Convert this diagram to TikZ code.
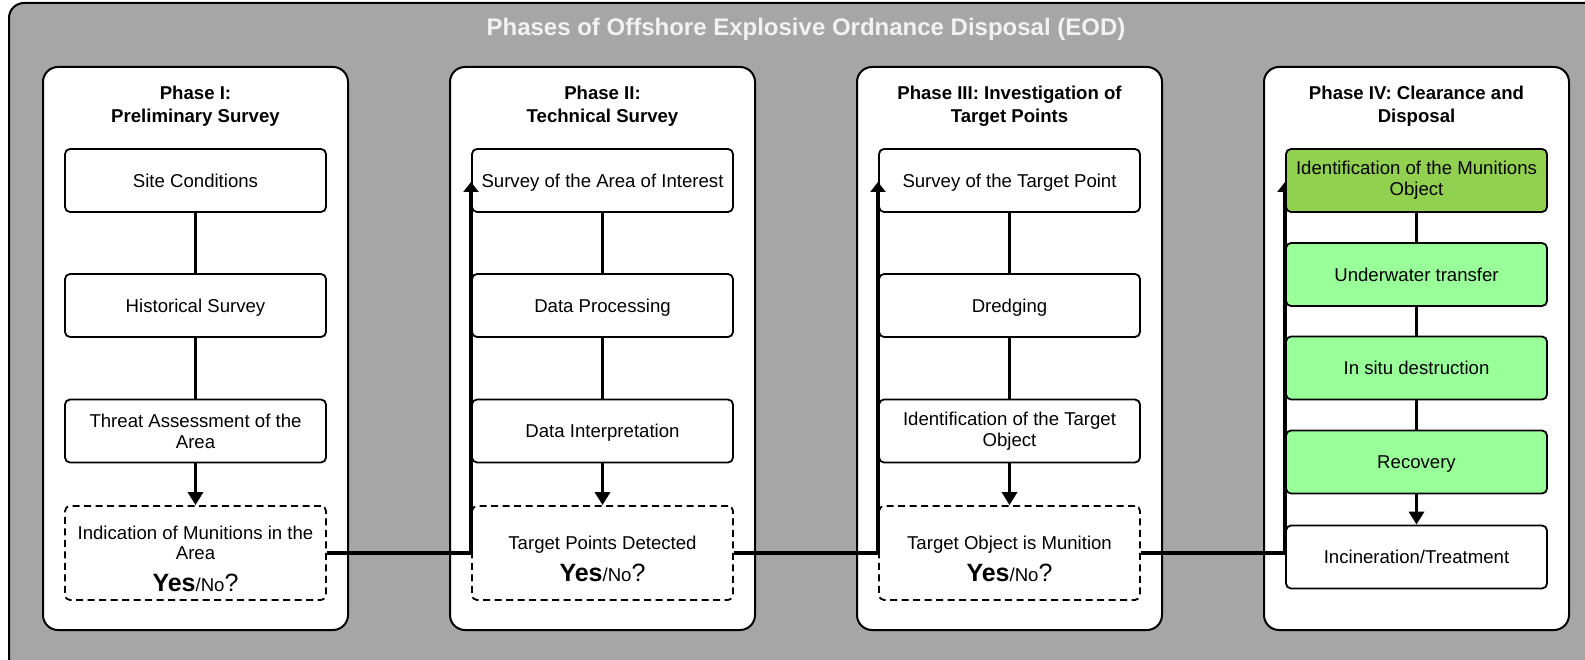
\documentclass[tikz,border=0pt]{standalone}
\usepackage{fontspec}
\setmainfont{Liberation Sans}
\usetikzlibrary{arrows.meta}
\definecolor{bggray}{HTML}{A6A6A6}
\definecolor{titlegray}{HTML}{F2F2F2}
\definecolor{darkgreen}{HTML}{92D050}
\definecolor{lightgreen}{HTML}{99FF99}
\newcommand{\YesNoQ}{{\fontsize{25}{30}\selectfont\bfseries Yes}/No{\fontsize{25}{30}\selectfont ?}}
\newcommand{\TopStrut}{\rule{0pt}{25pt}}
\begin{document}
\begin{tikzpicture}[x=1pt,y=-1pt,
  phasebox/.style={draw, line width=2pt, fill=white, rounded corners=15pt, minimum width=305pt, minimum height=563pt, inner sep=0pt},
  phasetitle/.style={font=\fontsize{18.6}{22.8}\selectfont\bfseries, align=center, inner sep=0pt},
  stepbox/.style={draw, line width=1.8pt, fill=white, rounded corners=5pt, minimum width=261pt, minimum height=63pt, inner sep=0pt, align=center, font=\fontsize{18.6}{20.8}\selectfont},
  onel/.style={text height=13.5pt, text depth=0pt},
  querybox/.style={stepbox, dashed, dash pattern=on 7pt off 4.5pt, minimum height=94pt},
  greenbox/.style={stepbox, fill=lightgreen},
  link/.style={line width=3.8pt},
  downarrow/.style={link, -{Triangle[width=15pt,length=13pt]}},
  uparrow/.style={link, -{Triangle[width=15pt,length=10pt]}},
]
\useasboundingbox (0,0) rectangle (1585,660);
\begin{scope}
  \clip (0,0) rectangle (1585,660);
  \draw[line width=2pt, fill=bggray, rounded corners=15pt] (9,3) rectangle (1620,700);
\end{scope}
\node[font=\fontsize{24}{28}\selectfont\bfseries, text=titlegray, anchor=base, inner sep=0pt] (title) at (806,36) {Phases of Offshore Explosive Ordnance Disposal (EOD)};

% phase boxes
\node[phasebox] (P1) at (195.5,348.5) {};
\node[phasebox] (P2) at (602.5,348.5) {};
\node[phasebox] (P3) at (1009.5,348.5) {};
\node[phasebox] (P4) at (1416.5,348.5) {};
\node[phasetitle] (T1) at (195.5,106.2) {Phase I:\\Preliminary Survey};
\node[phasetitle] (T2) at (602.5,106.2) {Phase II:\\Technical Survey};
\node[phasetitle] (T3) at (1009.5,106.2) {Phase III: Investigation of\\Target Points};
\node[phasetitle] (T4) at (1416.5,106.2) {Phase IV: Clearance and\\Disposal};

% Phase I
\node[stepbox,onel] (a1) at (195.5,180.5) {Site Conditions};
\node[stepbox,onel] (a2) at (195.5,305.5) {Historical Survey};
\node[stepbox] (a3) at (195.5,431) {Threat Assessment of the\\Area};
\node[querybox] (a4) at (195.5,553) {\TopStrut Indication of Munitions in the\\Area\\[11pt]\YesNoQ};

% Phase II
\node[stepbox,onel] (b1) at (602.5,180.5) {Survey of the Area of Interest};
\node[stepbox,onel] (b2) at (602.5,305.5) {Data Processing};
\node[stepbox,onel] (b3) at (602.5,431) {Data Interpretation};
\node[querybox] (b4) at (602.5,553) {\TopStrut Target Points Detected\\[9.5pt]\YesNoQ};

% Phase III
\node[stepbox,onel] (c1) at (1009.5,180.5) {Survey of the Target Point};
\node[stepbox,onel] (c2) at (1009.5,305.5) {Dredging};
\node[stepbox] (c3) at (1009.5,431) {Identification of the Target\\Object};
\node[querybox] (c4) at (1009.5,553) {\TopStrut Target Object is Munition\\[9.5pt]\YesNoQ};

% connectors between phases
\coordinate (e2) at (471,182);
\coordinate (e3) at (878,182);
\coordinate (e4) at (1285,182);
\draw[uparrow] (a4.east) -| (e2);
\draw[uparrow] (b4.east) -| (e3);
\draw[uparrow] (c4.east) -| (e4);

% Phase IV
\node[stepbox, fill=darkgreen] (d1) at (1416.5,180.5) {Identification of the Munitions\\Object};
\node[greenbox,onel] (d2) at (1416.5,274.5) {Underwater transfer};
\node[greenbox,onel] (d3) at (1416.5,368) {In situ destruction};
\node[greenbox,onel] (d4) at (1416.5,462) {Recovery};
\node[stepbox,onel] (d5) at (1416.5,557) {Incineration/Treatment};

% connectors inside phases
\draw[link] (a1) -- (a2);
\draw[link] (a2) -- (a3);
\draw[downarrow] (a3) -- (a4);
\draw[link] (b1) -- (b2);
\draw[link] (b2) -- (b3);
\draw[downarrow] (b3) -- (b4);
\draw[link] (c1) -- (c2);
\draw[link] (c2) -- (c3);
\draw[downarrow] (c3) -- (c4);
\draw[link] (d1) -- (d2);
\draw[link] (d2) -- (d3);
\draw[link] (d3) -- (d4);
\draw[downarrow] (d4) -- (d5);
\end{tikzpicture}
\end{document}
